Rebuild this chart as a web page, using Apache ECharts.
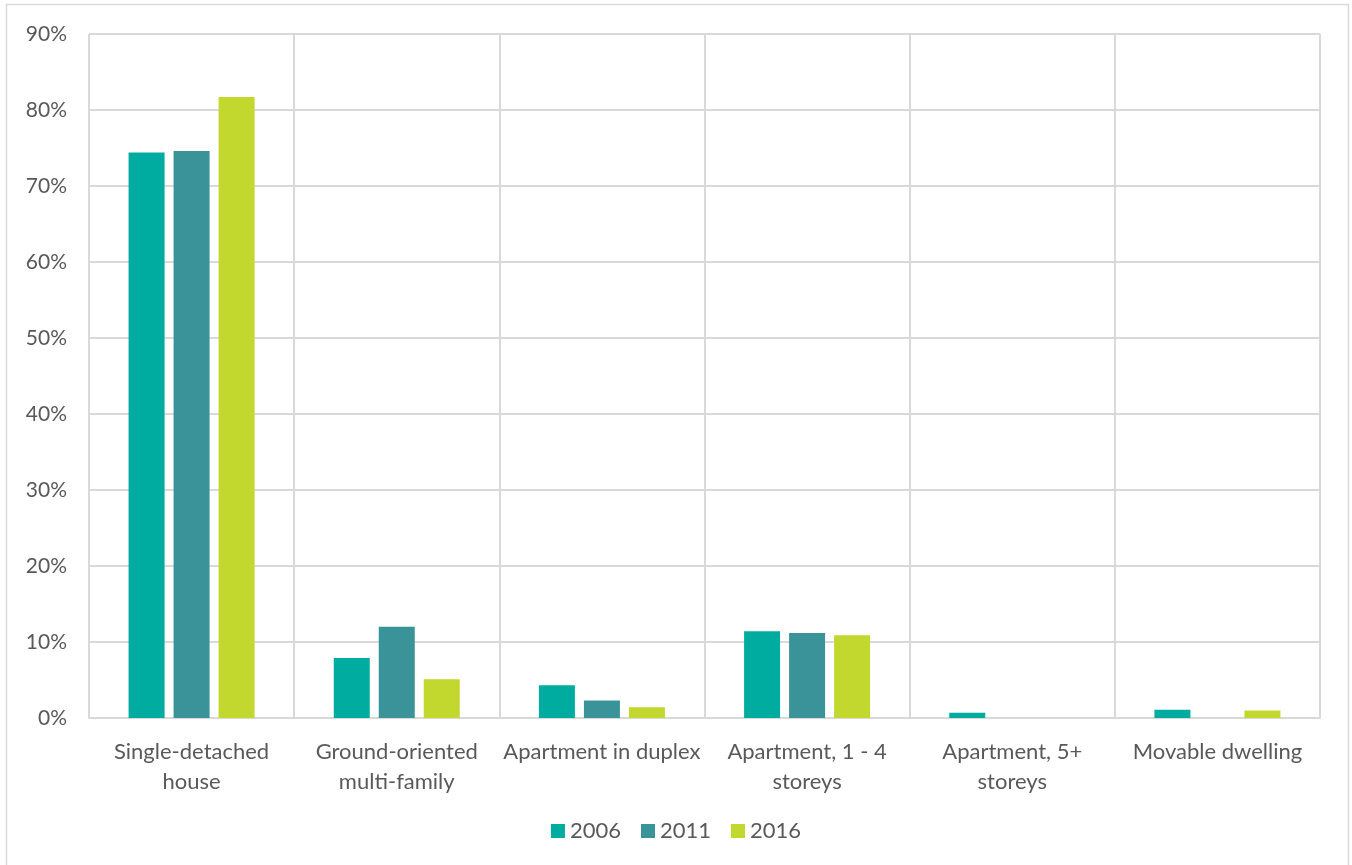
<!DOCTYPE html>
<html><head><meta charset="utf-8">
<script src="https://cdn.jsdelivr.net/npm/echarts@6/dist/echarts.min.js"></script>
<style>html,body{margin:0;padding:0;background:#fff}#c{width:1352px;height:865px}</style>
</head><body><div id="c"></div>
<script>
const categories = ['Single-detached\nhouse', 'Ground-oriented\nmulti-family', 'Apartment in duplex', 'Apartment, 1 - 4\nstoreys', 'Apartment, 5+\nstoreys', 'Movable dwelling'];
const s2006 = [74.4, 7.9, 4.3, 11.4, 0.7, 1.1];
const s2011 = [74.6, 12.0, 2.3, 11.2, 0, 0];
const s2016 = [81.7, 5.1, 1.4, 10.9, 0, 1.0];
const yTicks = [0, 10, 20, 30, 40, 50, 60, 70, 80, 90];
const colors = ['#00AC9F', '#3A9399', '#C2D82F'];
const font = 'Lato, sans-serif';
const chart = echarts.init(document.getElementById('c'));
const mk = (name, data, i) => ({
  name, type: 'bar', data, barWidth: 36, barGap: '25%',
  itemStyle: {color: colors[i]}
});
chart.setOption({
  animation: false,
  graphic: [{type: 'rect', shape: {x: 6.5, y: 4.5, width: 1342, height: 880}, style: {fill: 'none', stroke: '#d9d9d9', lineWidth: 1.5}}],
  grid: {left: 89, right: 32, top: 34, bottom: 147},
  legend: {bottom: 18, left: 'center', itemWidth: 14, itemHeight: 14, itemGap: 20, icon: 'rect',
    textStyle: {fontFamily: font, fontSize: 22, color: '#595959'}, data: ['2006', '2011', '2016']},
  xAxis: {type: 'category', data: categories,
    axisLine: {lineStyle: {color: '#d9d9d9', width: 2}}, axisTick: {show: false},
    splitLine: {show: true, lineStyle: {color: '#d9d9d9', width: 2}},
    axisLabel: {fontFamily: font, fontSize: 22, color: '#595959', margin: 19, lineHeight: 30, interval: 0}},
  yAxis: {type: 'value', min: yTicks[0], max: yTicks[yTicks.length - 1], interval: 10,
    axisLine: {show: false}, axisTick: {show: false},
    splitLine: {lineStyle: {color: '#d9d9d9', width: 2}},
    axisLabel: {fontFamily: font, fontSize: 21, color: '#595959', margin: 22, formatter: v => v + '%'}},
  series: [mk('2006', s2006, 0), mk('2011', s2011, 1), mk('2016', s2016, 2)]
});
</script></body></html>
